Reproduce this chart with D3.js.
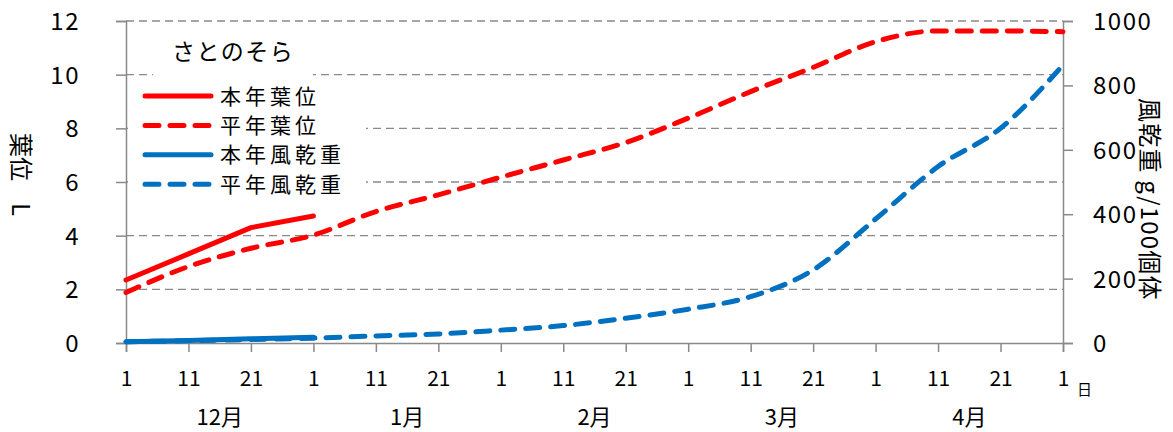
<!DOCTYPE html>
<html>
  <head>
    <meta charset="utf-8">
    <title>さとのそら 葉位・風乾重</title>
    <script type="text/javascript" src="https://d3js.org/d3.v7.min.js"></script>
    <style>
      body { margin: 0; background: #fff; }
      text { font-family: "Noto Sans CJK JP", "Noto Sans", sans-serif; fill: #000; }
    </style>
  </head>
  <body>
    <svg width="1173" height="432"></svg>
    <script>
      // x軸: 12月1日〜5月1日 (旬ごと)
      var dayLabels = ["1","11","21","1","11","21","1","11","21","1","11","21","1","11","21","1"];
      var months = ["12月","1月","2月","3月","4月"];
      var leftTicks = [0, 2, 4, 6, 8, 10, 12];
      var rightTicks = [0, 200, 400, 600, 800, 1000];

      // 葉位 (左軸)
      var leafThisYear = [2.35, 3.32, 4.3, 4.73];
      var leafNormal = [1.88, 2.85, 3.53, 4.02, 4.9, 5.52, 6.18, 6.82, 7.47, 8.38, 9.37, 10.27, 11.23, 11.63, 11.63, 11.6];
      // 風乾重 g/100個体 (右軸)
      var weightThisYear = [4, 8, 13, 18];
      var weightNormal = [4, 7, 11, 15, 22, 28, 40, 54, 77, 105, 144, 227, 385, 548, 667, 863];

      var svg = d3.select("svg");
      var plot = {left: 126, right: 1063, top: 21, bottom: 343};
      var axisColor = "#898989";

      var x = d3.scalePoint()
        .domain(d3.range(dayLabels.length))
        .range([plot.left, plot.right]);
      var yL = d3.scaleLinear().domain([0, 12]).range([plot.bottom, plot.top]);
      var yR = d3.scaleLinear().domain([0, 1000]).range([plot.bottom, plot.top]);

      // 目盛線 (破線)
      svg.append("g").selectAll("line")
        .data(leftTicks.filter(function(d){ return d > 0; }))
        .enter().append("line")
        .attr("x1", plot.left).attr("x2", plot.right)
        .attr("y1", function(d){ return yL(d); })
        .attr("y2", function(d){ return yL(d); })
        .attr("stroke", axisColor)
        .attr("stroke-width", 1.3)
        .attr("stroke-dasharray", "8,5");

      // 左軸
      var gL = svg.append("g")
        .attr("transform", "translate(" + plot.left + ",0)")
        .call(d3.axisLeft(yL).tickValues(leftTicks).tickSize(10).tickPadding(36).tickFormat(d3.format("d")));
      // 右軸
      var gR = svg.append("g")
        .attr("transform", "translate(" + plot.right + ",0)")
        .call(d3.axisRight(yR).tickValues(rightTicks).tickSize(10).tickPadding(20).tickFormat(d3.format("d")));
      // 下軸
      var gB = svg.append("g")
        .attr("transform", "translate(0," + plot.bottom + ")")
        .call(d3.axisBottom(x).tickSize(9).tickPadding(19).tickFormat(function(i){ return dayLabels[i]; }));

      [gL, gR, gB].forEach(function(g){
        g.select(".domain").attr("stroke", axisColor).attr("stroke-width", 1.5);
        g.selectAll(".tick line").attr("stroke", axisColor).attr("stroke-width", 1.5);
        g.selectAll("text").attr("fill", "#000")
          .style("font-family", "'Noto Sans CJK JP', sans-serif");
      });
      gL.selectAll("text").attr("font-size", 24).attr("letter-spacing", 1.5).attr("dy", "0.35em");
      gR.selectAll("text").attr("font-size", 24).attr("letter-spacing", 1.5).attr("text-anchor", "start").attr("dy", "0.35em");
      gB.selectAll("text").attr("font-size", 21);

      // 月ラベル (11日と21日の中間)
      svg.append("g").selectAll("text")
        .data(months)
        .enter().append("text")
        .attr("x", function(d, i){ return (x(i * 3 + 1) + x(i * 3 + 2)) / 2; })
        .attr("y", 425)
        .attr("text-anchor", "middle")
        .attr("font-size", 22)
        .text(function(d){ return d; });

      svg.append("text")
        .attr("x", 1077).attr("y", 395)
        .attr("font-size", 15)
        .text("日");

      // 軸タイトル
      var tL = svg.append("text")
        .attr("transform", "translate(12,133) rotate(90)")
        .attr("font-size", 24)
        .text("葉位");
      tL.append("tspan").attr("dx", 22).text("L");
      svg.append("text")
        .attr("transform", "translate(1141,98) rotate(90)")
        .attr("font-size", 24)
        .attr("letter-spacing", 1.2)
        .text("風乾重 g/100個体");

      // 系列 (本年は折れ線、平年は平滑線)
      var lineL = d3.line()
        .x(function(d, i){ return x(i); })
        .y(function(d){ return yL(d); });
      var lineR = d3.line()
        .x(function(d, i){ return x(i); })
        .y(function(d){ return yR(d); });

      var series = [
        {name: "本年葉位", data: leafThisYear, line: lineL, color: "#FF0000", dash: null},
        {name: "平年葉位", data: leafNormal, line: lineL, color: "#FF0000", dash: "14,11"},
        {name: "本年風乾重", data: weightThisYear, line: lineR, color: "#0070C0", dash: null},
        {name: "平年風乾重", data: weightNormal, line: lineR, color: "#0070C0", dash: "14,11"}
      ];

      // 平年を先に、本年を上に描く
      [series[3], series[1], series[2], series[0]].forEach(function(s){
        var gen = s.dash ? s.line.curve(d3.curveMonotoneX) : s.line.curve(d3.curveLinear);
        svg.append("path")
          .attr("d", gen(s.data))
          .attr("fill", "none")
          .attr("stroke", s.color)
          .attr("stroke-width", 5)
          .attr("stroke-linecap", "round")
          .attr("stroke-linejoin", "round")
          .attr("stroke-dasharray", s.dash);
      });

      // 凡例
      svg.append("rect").attr("x", 153).attr("y", 30).attr("width", 160).attr("height", 50).attr("fill", "#fff");
      svg.append("rect").attr("x", 128).attr("y", 82).attr("width", 238).attr("height", 116).attr("fill", "#fff");
      svg.append("text")
        .attr("x", 172).attr("y", 60)
        .attr("font-size", 23)
        .attr("letter-spacing", 1.5)
        .text("さとのそら");

      var lg = svg.append("g").selectAll("g")
        .data(series)
        .enter().append("g")
        .attr("transform", function(d, i){ return "translate(0," + (96 + i * 29.4) + ")"; });
      lg.append("line")
        .attr("x1", 145).attr("x2", 211)
        .attr("stroke", function(d){ return d.color; })
        .attr("stroke-width", 5)
        .attr("stroke-linecap", "round")
        .attr("stroke-dasharray", function(d){ return d.dash; });
      lg.append("text")
        .attr("x", 220).attr("y", 0)
        .attr("dy", "0.36em")
        .attr("font-size", 21)
        .attr("letter-spacing", 4)
        .text(function(d){ return d.name; });
    </script>
  </body>
</html>
